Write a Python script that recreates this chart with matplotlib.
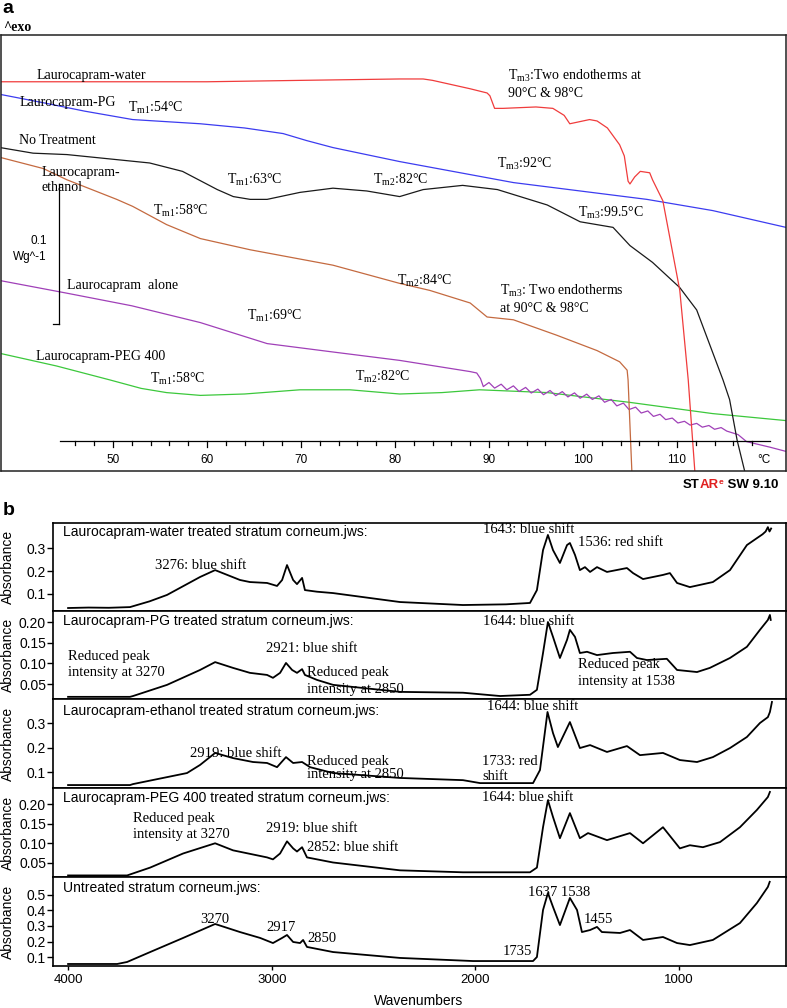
import matplotlib
matplotlib.use('Agg')
import matplotlib.pyplot as plt

W, H = 787, 1008
plt.rcParams['mathtext.fontset'] = 'custom'
plt.rcParams['mathtext.rm'] = 'Liberation Serif'
plt.rcParams['mathtext.it'] = 'Liberation Serif:italic'
plt.rcParams['lines.solid_joinstyle'] = 'round'
SERIF = 'Liberation Serif'
SANS = 'Liberation Sans'

# ---------------- Panel a : DSC thermograms (T in degC, heat flow in W/g, offset) -------------
red_T = [38.0, 44.0, 52.0, 60.0, 70.0, 80.5, 83.0, 84.0, 86.0, 88.0, 89.8, 90.1, 90.6, 91.5, 95.0,
         96.8, 98.0, 98.6, 99.3, 100.7, 101.5, 102.6, 103.9, 104.4, 104.8, 105.0, 105.5, 106.1, 107.1,
         107.4, 108.5, 110.3, 111.2, 111.9, 112.1]
red_v = [0.278, 0.278, 0.278, 0.278, 0.279, 0.280, 0.280, 0.279, 0.276, 0.273, 0.270, 0.268, 0.259,
         0.259, 0.260, 0.259, 0.254, 0.248, 0.249, 0.251, 0.250, 0.245, 0.233, 0.225, 0.207, 0.205,
         0.210, 0.214, 0.213, 0.208, 0.193, 0.129, 0.065, 0.0, -0.01]
blue_T = [38.0, 42.6, 47.0, 52.1, 59.3, 64.0, 68.1, 70.6, 73.4, 80.5, 92.6, 106.8, 113.8, 121.6]
blue_v = [0.269, 0.263, 0.257, 0.251, 0.248, 0.245, 0.241, 0.236, 0.231, 0.221, 0.206, 0.194, 0.186, 0.174]
black_T = [38.0, 41.5, 45.1, 53.9, 57.4, 61.1, 62.8, 64.6, 66.4, 69.9, 73.4, 77.0, 80.5, 83.0, 87.2,
           90.9, 96.2, 99.7, 103.2, 105.0, 107.4, 110.3, 112.1, 114.9, 115.6, 116.4, 117.2, 117.5]
black_v = [0.231, 0.227, 0.226, 0.220, 0.214, 0.201, 0.196, 0.194, 0.194, 0.199, 0.202, 0.200, 0.196,
           0.201, 0.204, 0.201, 0.190, 0.178, 0.174, 0.161, 0.149, 0.131, 0.115, 0.065, 0.051, 0.022,
           0.0, -0.01]
brown_T = [38.0, 42.6, 45.1, 50.4, 52.1, 55.7, 59.3, 64.6, 73.4, 80.5, 83.7, 88.0, 89.8, 92.6, 97.2,
           101.5, 103.9, 104.7, 104.8, 105.2, 105.3]
brown_v = [0.224, 0.216, 0.208, 0.194, 0.189, 0.176, 0.166, 0.158, 0.147, 0.134, 0.129, 0.120, 0.110,
           0.108, 0.097, 0.086, 0.078, 0.072, 0.065, 0.0, -0.01]
purple_T = [38.0, 45.1, 52.0, 59.3, 66.4, 73.4, 80.5, 88.0, 88.7, 89.1,
            89.4, 90.0, 90.6, 91.3, 91.9, 92.6, 93.2, 93.9, 94.5, 95.2, 95.8, 96.5, 97.1, 97.8, 98.4,
            99.1, 99.7, 100.4, 101.0, 101.7, 102.3, 103.0, 103.6, 104.3, 104.9, 105.6, 106.2, 106.9,
            107.5, 108.2, 108.8, 109.5, 110.1, 110.8, 111.4, 112.1, 112.7, 113.4, 114.0, 114.7, 115.3,
            116.5, 117.4, 119.9, 121.6]
purple_v = [0.136, 0.127, 0.118, 0.106, 0.091, 0.085, 0.079, 0.071, 0.070, 0.066,
            0.0603, 0.0632, 0.0592, 0.0620, 0.0580, 0.0608, 0.0568, 0.0597, 0.0557, 0.0585, 0.0545,
            0.0575, 0.0538, 0.0567, 0.0529, 0.0558, 0.0520, 0.0549, 0.0511, 0.0537, 0.0491, 0.0511,
            0.0465, 0.0485, 0.0439, 0.0456, 0.0414, 0.0429, 0.0390, 0.0405, 0.0367, 0.0378, 0.0343,
            0.0355, 0.0328, 0.0340, 0.0313, 0.0325, 0.0298, 0.0310, 0.0285,
            0.026, 0.021, 0.017, 0.014]
green_T = [38.0, 44.0, 49.7, 53.0, 55.7, 59.3, 64.0, 69.9, 75.2, 80.5, 85.0, 89.0, 96.2, 105.0, 113.8, 121.6]
green_v = [0.084, 0.075, 0.065, 0.059, 0.056, 0.054, 0.055, 0.058, 0.058, 0.055, 0.056, 0.058, 0.056,
           0.049, 0.041, 0.036]
temp_ticks = [50, 60, 70, 80, 90, 100, 110]

# ---------------- Panel b : FTIR spectra (wavenumber cm-1, absorbance) -------------
water_wn = [4000, 3900, 3800, 3696, 3600, 3514, 3352, 3278, 3156, 3107, 3023, 2974, 2949, 2925, 2895,
            2876, 2851, 2837, 2778, 2699, 2370, 2061, 1850, 1732, 1698, 1668, 1644, 1619, 1585, 1550,
            1536, 1511, 1487, 1462, 1437, 1403, 1354, 1256, 1226, 1177, 1079, 1045, 1010, 947, 834,
            750, 667, 618, 590, 575, 564, 556, 548]
water_ab = [0.039, 0.041, 0.040, 0.043, 0.068, 0.096, 0.174, 0.204, 0.161, 0.152, 0.148, 0.135, 0.161,
            0.226, 0.161, 0.143, 0.170, 0.117, 0.110, 0.104, 0.065, 0.052, 0.055, 0.061, 0.117, 0.291,
            0.357, 0.291, 0.235, 0.313, 0.322, 0.270, 0.204, 0.217, 0.196, 0.217, 0.196, 0.213, 0.191,
            0.165, 0.183, 0.191, 0.148, 0.130, 0.152, 0.204, 0.313, 0.343, 0.360, 0.372, 0.391, 0.372,
            0.385]
pg_wn = [4000, 3696, 3681, 3514, 3352, 3278, 3190, 3107, 3023, 2994, 2959, 2930, 2900, 2876, 2851,
         2837, 2778, 2699, 2370, 2061, 1879, 1732, 1698, 1668, 1644, 1619, 1585, 1550, 1536, 1511,
         1487, 1452, 1403, 1325, 1241, 1207, 1158, 1060, 1010, 912, 849, 750, 667, 603, 564, 554, 550]
pg_ab = [0.019, 0.019, 0.021, 0.048, 0.084, 0.103, 0.089, 0.077, 0.072, 0.065, 0.077, 0.101, 0.084,
         0.077, 0.086, 0.072, 0.060, 0.048, 0.031, 0.029, 0.021, 0.024, 0.036, 0.125, 0.200, 0.164,
         0.113, 0.157, 0.181, 0.164, 0.125, 0.128, 0.120, 0.125, 0.128, 0.113, 0.108, 0.111, 0.084,
         0.079, 0.089, 0.113, 0.140, 0.181, 0.205, 0.217, 0.205]
eth_wn = [4000, 3696, 3681, 3416, 3352, 3278, 3190, 3092, 3023, 2974, 2930, 2895, 2851, 2812, 2699,
          2370, 2061, 1977, 1717, 1683, 1646, 1619, 1595, 1536, 1487, 1437, 1354, 1256, 1192, 1079,
          996, 912, 834, 750, 667, 603, 564, 554, 544]
eth_ab = [0.047, 0.047, 0.051, 0.096, 0.129, 0.178, 0.157, 0.141, 0.137, 0.120, 0.161, 0.137, 0.141,
          0.120, 0.096, 0.076, 0.067, 0.055, 0.055, 0.108, 0.345, 0.259, 0.202, 0.304, 0.198, 0.210,
          0.182, 0.206, 0.169, 0.178, 0.149, 0.141, 0.161, 0.198, 0.243, 0.300, 0.324, 0.345, 0.386]
peg_wn = [4000, 3710, 3597, 3435, 3278, 3190, 3023, 2994, 2959, 2925, 2895, 2876, 2851, 2827, 2699,
          2370, 2061, 1732, 1698, 1668, 1644, 1619, 1585, 1536, 1487, 1447, 1354, 1241, 1177, 1079,
          996, 947, 883, 799, 701, 618, 564, 554]
peg_ab = [0.018, 0.018, 0.038, 0.074, 0.100, 0.082, 0.064, 0.059, 0.074, 0.105, 0.087, 0.079, 0.090,
          0.064, 0.051, 0.031, 0.026, 0.026, 0.038, 0.141, 0.210, 0.167, 0.113, 0.177, 0.113, 0.126,
          0.108, 0.126, 0.100, 0.141, 0.087, 0.095, 0.090, 0.103, 0.141, 0.185, 0.218, 0.231]
unt_wn = [4000, 3759, 3710, 3597, 3435, 3278, 3156, 3057, 2994, 2949, 2925, 2895, 2861, 2846, 2827,
          2699, 2370, 2012, 1717, 1698, 1668, 1644, 1619, 1585, 1536, 1501, 1477, 1437, 1403, 1379,
          1290, 1241, 1177, 1079, 1010, 947, 834, 701, 618, 564, 555]
unt_ab = [0.055, 0.055, 0.068, 0.132, 0.223, 0.313, 0.261, 0.223, 0.190, 0.223, 0.242, 0.197, 0.190,
          0.210, 0.165, 0.132, 0.094, 0.074, 0.074, 0.100, 0.403, 0.513, 0.423, 0.306, 0.481, 0.403,
          0.261, 0.274, 0.294, 0.261, 0.255, 0.274, 0.210, 0.229, 0.190, 0.177, 0.210, 0.319, 0.448,
          0.552, 0.585]
wn_ticks = [4000, 3000, 2000, 1000]

fig = plt.figure(figsize=(W / 100, H / 100), dpi=100)


def fx(px):
    return px / W


def fy(py):
    return 1 - py / H


def ftext(px, py, s, family=SERIF, size=10, **kw):
    return fig.text(fx(px), fy(py), s, va='baseline', family=family, fontsize=size, **kw)


def tm(sub, rest):
    return 'T$_{\\mathrm{' + sub + '}}$' + rest


# ---------------- Panel a ----------------
axa = fig.add_axes([fx(1), fy(471), (786 - 1) / W, (471 - 35) / H])
axa.set_xlim(38.09, 121.6)
axa.set_ylim(0, 0.3114)
axa.set_xticks([])
axa.set_yticks([])
for sp in axa.spines.values():
    sp.set_linewidth(1.1)
    sp.set_color('#222222')

axa.plot(green_T, green_v, color='#3cc83c', lw=0.9)
axa.plot(purple_T, purple_v, color='#a040b8', lw=0.9)
axa.plot(brown_T, brown_v, color='#c46a40', lw=0.9)
axa.plot(blue_T, blue_v, color='#3c3cf0', lw=0.9)
axa.plot(black_T, black_v, color='#1a1a1a', lw=0.9)
axa.plot(red_T, red_v, color='#f03c3c', lw=0.9)

# internal temperature axis
ybase = 0.0214
axa.plot([44.36, 119.9], [ybase, ybase], color='black', lw=0.9)
for t in range(46, 120, 2):
    ln = 0.0043 if t % 10 == 0 else 0.0028
    axa.plot([t, t], [ybase, ybase - ln], color='black', lw=0.9)
for t in temp_ticks:
    axa.text(t, 0.0057, str(t), ha='center', va='baseline', family=SANS, fontsize=8.5)
axa.text(119.2, 0.0057, '°C', ha='center', va='baseline', family=SANS, fontsize=8.5)

# scale bar 0.1 W/g
axa.plot([44.26, 44.26], [0.205, 0.105], color='black', lw=0.9)
axa.plot([44.26, 44.57], [0.205, 0.205], color='black', lw=0.9)
axa.plot([43.6, 44.26], [0.105, 0.105], color='black', lw=0.9)
ftext(47, 244, '0.1', family=SANS, size=8.5, ha='right')
ftext(47, 260, 'Wg^-1', family=SANS, size=8.5, ha='right')

ftext(2, 13, 'a', family=SANS, size=14, weight='bold')
ftext(3, 31, '^exo', family=SERIF, size=10, weight='bold')

ftext(37, 79, 'Laurocapram-water')
ftext(20, 106, 'Laurocapram-PG')
ftext(128, 112, tm('m1', ':54°C'))
ftext(19, 144, 'No Treatment')
ftext(42, 176, 'Laurocapram-')
ftext(42, 191, 'ethanol')
ftext(227, 184, tm('m1', ':63°C'))
ftext(373, 184, tm('m2', ':82°C'))
ftext(508, 80, tm('m3', ':Two endotherms at'))
ftext(508, 97, '90°C & 98°C')
ftext(497, 168, tm('m3', ':92°C'))
ftext(153, 215, tm('m1', ':58°C'))
ftext(578, 217, tm('m3', ':99.5°C'))
ftext(397, 285, tm('m2', ':84°C'))
ftext(500, 295, tm('m3', ': Two endotherms'))
ftext(500, 312, 'at 90°C & 98°C')
ftext(67, 289, 'Laurocapram  alone')
ftext(247, 320, tm('m1', ':69°C'))
ftext(36, 360, 'Laurocapram-PEG 400')
ftext(150, 383, tm('m1', ':58°C'))
ftext(355, 381, tm('m2', ':82°C'))

# STARe logo
renderer = fig.canvas.get_renderer()
xcur = 683
for s, col, sz, dy in [('ST', 'black', 9.5, 0), ('AR', '#e02020', 9.5, 0), ('e', '#e02020', 6, -4),
                       (' SW 9.10', 'black', 9.5, 0)]:
    t = ftext(xcur, 488 + dy, s, family=SANS, size=sz, weight='bold', color=col)
    xcur += t.get_window_extent(renderer=renderer).width

# ---------------- Panel b ----------------
ftext(3, 515, 'b', family=SANS, size=14, weight='bold')

panels = [(523, 611), (611, 699), (699, 788), (788, 877), (877, 966)]
ylims = [(0.026, 0.409), (0.0138, 0.2266), (0.035, 0.398), (0.014, 0.241), (0.042, 0.616)]
yticks = [[0.1, 0.2, 0.3], [0.05, 0.10, 0.15, 0.20], [0.1, 0.2, 0.3], [0.05, 0.10, 0.15, 0.20],
          [0.1, 0.2, 0.3, 0.4, 0.5]]
ylabels = [['0.1', '0.2', '0.3'], ['0.05', '0.10', '0.15', '0.20'], ['0.1', '0.2', '0.3'],
           ['0.05', '0.10', '0.15', '0.20'], ['0.1', '0.2', '0.3', '0.4', '0.5']]
spectra = [(water_wn, water_ab), (pg_wn, pg_ab), (eth_wn, eth_ab), (peg_wn, peg_ab), (unt_wn, unt_ab)]
titles = ['Laurocapram-water treated stratum corneum.jws:',
          'Laurocapram-PG treated stratum corneum.jws:',
          'Laurocapram-ethanol treated stratum corneum.jws:',
          'Laurocapram-PEG 400 treated stratum corneum.jws:',
          'Untreated stratum corneum.jws:']
title_base = [536, 625, 715, 802, 892]

for i, (top, bot) in enumerate(panels):
    ax = fig.add_axes([fx(53), fy(bot), (786 - 53) / W, (bot - top) / H])
    ax.set_xlim(4074, 475)
    ax.set_ylim(*ylims[i])
    wn, ab = spectra[i]
    ax.plot(wn, ab, color='black', lw=1.3)
    ax.set_yticks(yticks[i])
    ax.set_yticklabels(ylabels[i], family=SANS, fontsize=10)
    ax.tick_params(axis='y', direction='out', length=4, width=1, pad=1)
    if i == 4:
        ax.set_xticks(wn_ticks)
        ax.set_xticklabels([str(v) for v in wn_ticks], family=SANS, fontsize=9.5)
        ax.tick_params(axis='x', direction='out', length=3, width=1, pad=3)
    else:
        ax.set_xticks([])
    for sp in ax.spines.values():
        sp.set_linewidth(1.2)
    ftext(63, title_base[i], titles[i], family=SANS, size=10)
    fig.text(fx(8), fy((top + bot) / 2), 'Absorbance', rotation=90, ha='center', va='center',
             family=SANS, fontsize=10)

# annotations panel b
BS = 10.5
ftext(155, 569, '3276: blue shift', size=BS)
ftext(483, 533, '1643: blue shift', size=BS)
ftext(578, 546, '1536: red shift', size=BS)

ftext(68, 660, 'Reduced peak', size=BS)
ftext(68, 676, 'intensity at 3270', size=BS)
ftext(266, 652, '2921: blue shift', size=BS)
ftext(307, 676, 'Reduced peak', size=BS)
ftext(307, 693, 'intensity at 2850', size=BS)
ftext(483, 625, '1644: blue shift', size=BS)
ftext(578, 668, 'Reduced peak', size=BS)
ftext(578, 685, 'intensity at 1538', size=BS)

ftext(190, 757, '2919: blue shift', size=BS)
ftext(307, 765, 'Reduced peak', size=BS)
ftext(307, 778, 'intensity at 2850', size=BS)
ftext(487, 710, '1644: blue shift', size=BS)
ftext(482, 765, '1733: red', size=BS)
ftext(482, 780, 'shift', size=BS)

ftext(133, 822, 'Reduced peak', size=BS)
ftext(133, 838, 'intensity at 3270', size=BS)
ftext(266, 832, '2919: blue shift', size=BS)
ftext(307, 851, '2852: blue shift', size=BS)
ftext(482, 801, '1644: blue shift', size=BS)

ftext(200, 923, '3270', size=BS)
ftext(266, 931, '2917', size=BS)
ftext(307, 942, '2850', size=BS)
ftext(528, 896, '1637 1538', size=BS)
ftext(584, 923, '1455', size=BS)
ftext(503, 955, '1735', size=BS)

ftext(419, 1005, 'Wavenumbers', family=SANS, size=10, ha='center')

fig.savefig('out.png', dpi=100)
